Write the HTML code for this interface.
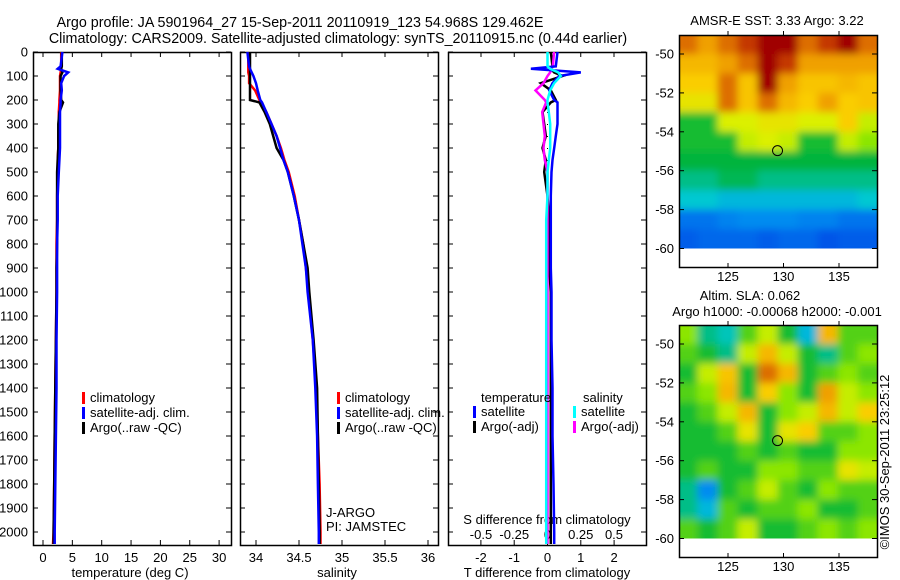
<!DOCTYPE html>
<html><head><meta charset="utf-8"><style>
body{margin:0;background:#fff;}
svg{display:block;font-family:"Liberation Sans",sans-serif;font-size:13px;}
</style></head><body>
<svg id="fig" width="900" height="580" viewBox="0 0 900 580" xmlns="http://www.w3.org/2000/svg">
<defs>
<filter id="smooth" x="0" y="0" width="1" height="1"><feGaussianBlur stdDeviation="4"/><feComponentTransfer><feFuncA type="table" tableValues="1 1"/></feComponentTransfer></filter>
<clipPath id="clip1"><rect x="679" y="35" width="199" height="213.5"/></clipPath>
<clipPath id="clip2"><rect x="679" y="325" width="199" height="213.5"/></clipPath>
</defs>
<text x="300" y="27" text-anchor="middle" style="font-size:14.3px">Argo profile: JA 5901964_27 15-Sep-2011 20110919_123 54.968S 129.462E</text>
<text x="338" y="43" text-anchor="middle" style="font-size:14.3px">Climatology: CARS2009. Satellite-adjusted climatology: synTS_20110915.nc (0.44d earlier)</text>
<g id="layer"></g>
</svg>
<script>
// ---- data ----
const depthTicks=[0,100,200,300,400,500,600,700,800,900,1000,1100,1200,1300,1400,1500,1600,1700,1800,1900,2000];
const tempTicks=[0,5,10,15,20,25,30];
const salTicks=[34,34.5,35,35.5,36];
const salTickLabels=["34","34.5","35","35.5","36"];
const tdiffTicks=[-2,-1,0,1,2];
const sdiffTicks=[-0.5,-0.25,0,0.25,0.5];
const sdiffTickLabels=["-0.5","-0.25","0","0.25","0.5"];
const lonTicks=[125,130,135];
const latTicks=[-50,-52,-54,-56,-58,-60];

const depths=[0,60,70,85,100,130,160,200,210,250,300,350,400,450,500,600,700,800,900,1000,1200,1400,1600,1800,2000,2050];
const tempClim=[3.1,3.1,3.1,3.0,2.9,2.9,2.9,2.8,2.8,2.7,2.7,2.6,2.6,2.5,2.5,2.4,2.4,2.3,2.3,2.3,2.2,2.1,2.0,1.9,1.8,1.7];
const tempSat=[3.3,3.0,2.5,4.3,3.6,3.1,3.2,3.0,3.0,2.9,2.9,2.9,2.9,2.8,2.7,2.5,2.5,2.4,2.4,2.4,2.3,2.3,2.2,2.1,2.0,2.0];
const tempArgo=[3.2,3.2,3.1,3.3,3.0,3.0,3.0,3.1,3.4,2.8,2.6,2.6,2.6,2.5,2.4,2.4,2.4,2.4,2.3,2.3,2.2,2.1,2.0,1.9,1.8,1.8];
const salClim=[33.91,33.91,33.91,33.91,33.92,33.92,33.99,34.04,34.06,34.12,34.18,34.24,34.29,34.33,34.38,34.45,34.5,34.55,34.58,34.61,34.66,34.7,34.72,34.74,34.75,34.75];
const salSat=[33.9,33.92,33.93,33.95,33.97,34.0,34.02,34.05,34.07,34.12,34.18,34.24,34.28,34.32,34.37,34.44,34.5,34.54,34.58,34.6,34.66,34.69,34.71,34.72,34.73,34.73];
const salArgo=[33.93,33.93,33.93,33.93,33.93,33.93,33.93,33.93,34.04,34.1,34.16,34.2,34.24,34.32,34.37,34.44,34.5,34.55,34.6,34.62,34.67,34.71,34.72,34.73,34.74,34.74];
const tdiffSat=[0.3,0.25,-0.5,1.0,0.35,0.15,0.05,0.2,0.3,0.3,0.3,0.25,0.2,0.15,0.12,0.1,0.1,0.1,0.1,0.12,0.12,0.15,0.15,0.18,0.2,0.2];
const tdiffArgo=[0.1,0.15,0.1,0.2,0.45,-0.2,0.1,0.25,0.1,-0.15,-0.1,-0.05,-0.15,-0.05,-0.1,0.0,0.05,0.05,0.05,0.1,0.1,0.1,0.1,0.1,0.1,0.1];
const sdiffSat=[0.0,0.0,0.02,0.08,0.1,0.05,0.02,0.0,0.0,0.01,0.02,0.02,0.02,0.01,0.0,0.0,-0.01,-0.01,-0.01,-0.01,-0.01,-0.01,-0.01,-0.01,-0.01,-0.01];
const sdiffArgo=[0.05,0.04,0.03,0.02,0.0,-0.03,-0.09,-0.02,-0.01,-0.04,-0.03,-0.02,-0.03,-0.02,0.0,0.0,0.0,0.0,0.0,0.0,0.0,0.0,0.0,0.0,0.0,0.0];

const sstGrid=[
[0.85,0.8,0.85,0.9,0.95,0.95,0.85,0.9,0.95,0.85],
[0.75,0.75,0.8,0.85,0.95,0.9,0.8,0.8,0.8,0.8],
[0.7,0.7,0.85,0.72,0.95,0.8,0.72,0.72,0.75,0.72],
[0.65,0.65,0.85,0.72,0.85,0.75,0.7,0.8,0.7,0.72],
[0.45,0.45,0.62,0.62,0.65,0.65,0.62,0.62,0.7,0.6],
[0.45,0.45,0.45,0.6,0.62,0.6,0.45,0.45,0.6,0.55],
[0.43,0.43,0.43,0.43,0.43,0.43,0.43,0.43,0.43,0.43],
[0.4,0.4,0.42,0.42,0.4,0.4,0.4,0.4,0.4,0.4],
[0.37,0.37,0.35,0.35,0.35,0.35,0.35,0.35,0.35,0.37],
[0.25,0.25,0.28,0.3,0.3,0.3,0.28,0.28,0.25,0.25],
[0.2,0.22,0.22,0.22,0.2,0.22,0.22,0.18,0.2,0.2]];
const slaGrid=[
[0.55,0.4,0.38,0.5,0.6,0.45,0.35,0.75,0.5,0.5],
[0.5,0.45,0.4,0.6,0.75,0.6,0.45,0.4,0.5,0.55],
[0.45,0.6,0.72,0.45,0.85,0.75,0.45,0.5,0.55,0.5],
[0.5,0.55,0.75,0.45,0.7,0.55,0.45,0.8,0.6,0.55],
[0.45,0.5,0.6,0.75,0.45,0.55,0.6,0.75,0.6,0.7],
[0.45,0.45,0.5,0.65,0.45,0.65,0.7,0.5,0.5,0.55],
[0.45,0.45,0.45,0.5,0.45,0.5,0.45,0.45,0.55,0.55],
[0.45,0.5,0.45,0.45,0.55,0.55,0.5,0.5,0.65,0.6],
[0.4,0.3,0.45,0.5,0.6,0.5,0.45,0.55,0.5,0.5],
[0.4,0.35,0.5,0.45,0.5,0.5,0.55,0.45,0.45,0.5],
[0.5,0.45,0.5,0.6,0.45,0.45,0.5,0.55,0.5,0.55]];
const argoLon=129.462, argoLat=-54.968;

// ---- helpers ----
const NS="http://www.w3.org/2000/svg";
const L=document.getElementById('layer');
function mk(tag,attrs,txt,parent){const e=document.createElementNS(NS,tag);for(const k in attrs)e.setAttribute(k,attrs[k]);if(txt!==undefined&&txt!==null)e.textContent=txt;(parent||L).appendChild(e);return e;}
const TOP=52,BOT=545;
const yD=d=>TOP+d*0.24;
const xT=v=>43+v*5.87;
const xS=v=>256+(v-34)*86;
const xTd=v=>547.5+v*33.3;
const xSd=v=>547.5+v*133;

function box(x0,x1,y0,y1,name){const r=mk('rect',{x:x0+0.5,y:y0+0.5,width:x1-x0,height:y1-y0,fill:'none',stroke:'#000','stroke-width':1.5});

}
function line(x1,y1,x2,y2,c,w){mk('line',{x1,y1,x2,y2,stroke:c||'#000','stroke-width':w||1});}
function txt(x,y,s,anchor,name){const t=mk('text',{x,y,'text-anchor':anchor||'start'},s);

return t;}
function profile(xs,vals,fx,color,name){const p=mk('polyline',{points:vals.map((v,i)=>fx(v).toFixed(1)+','+yD(xs[i]).toFixed(1)).join(' '),fill:'none',stroke:color,'stroke-width':2.5,'stroke-linejoin':'miter'});

}
function depthTicksOn(x0,x1,labels){depthTicks.forEach(d=>{const y=yD(d);line(x0,y,x0+5,y);line(x1-5,y,x1,y);if(labels)txt(28,y+4.5,String(d),'end','depth-tick-label');});}
function legend(x,y,items){items.forEach((it,i)=>{const r=mk('rect',{x:x,y:y+i*15-10,width:3,height:12,fill:it[0]});


txt(x+8,y+i*15,it[1],'start','legend-entry');});}

// ---- panel 1 temperature ----
box(33,231,TOP,BOT,'temperature-axes');
depthTicksOn(33,231,true);
tempTicks.forEach((v,i)=>{const x=xT(v);line(x,BOT-5,x,BOT);line(x,TOP,x,TOP+5);txt(x,562,String(v),'middle','temperature-tick-label');});
txt(130,577,'temperature (deg C)','middle','x-axis-title-temperature');
profile(depths,tempClim,xT,'#f00','temp-climatology-line');
profile(depths,tempArgo,xT,'#000','temp-argo-line');
profile(depths,tempSat,xT,'#00f','temp-satellite-line');
legend(82,402,[['#f00','climatology'],['#00f','satellite-adj. clim.'],['#000','Argo(..raw -QC)']]);

// ---- panel 2 salinity ----
box(240,438,TOP,BOT,'salinity-axes');
depthTicksOn(240,438,false);
salTicks.forEach((v,i)=>{const x=xS(v);line(x,BOT-5,x,BOT);line(x,TOP,x,TOP+5);txt(x,562,salTickLabels[i],'middle','salinity-tick-label');});
txt(337,577,'salinity','middle','x-axis-title-salinity');
profile(depths,salClim,xS,'#f00','sal-climatology-line');
profile(depths,salArgo,xS,'#000','sal-argo-line');
profile(depths,salSat,xS,'#00f','sal-satellite-line');
legend(337,402,[['#f00','climatology'],['#00f','satellite-adj. clim.'],['#000','Argo(..raw -QC)']]);
txt(326,517,'J-ARGO','start','float-program-label');
txt(326,531,'PI: JAMSTEC','start','pi-label');

// ---- panel 3 differences ----
box(448,646,TOP,BOT,'difference-axes');
depthTicksOn(448,646,false);
for(let d=0;d<=2000;d+=50){mk('rect',{x:547,y:yD(d),width:1,height:1,fill:'#000'});}
tdiffTicks.forEach(v=>{const x=xTd(v);line(x,BOT-5,x,BOT);txt(x,562,String(v),'middle','tdiff-tick-label');});
sdiffTicks.forEach((v,i)=>{const x=xSd(v);line(x,TOP,x,TOP+5);txt(x,539,sdiffTickLabels[i],'middle','sdiff-tick-label');});
txt(547,524,'S difference from climatology','middle','s-difference-axis-title');
txt(547,577,'T difference from climatology','middle','t-difference-axis-title');
profile(depths,tdiffArgo,xTd,'#000','tdiff-argo-line');
profile(depths,sdiffArgo,xSd,'#f0f','sdiff-argo-line');
profile(depths,tdiffSat,xTd,'#00f','tdiff-satellite-line');
profile(depths,sdiffSat,xSd,'#0ff','sdiff-satellite-line');
txt(481,402,'temperature','start','legend-temperature-header');
txt(583,402,'salinity','start','legend-salinity-header');
legend(473,416,[['#00f','satellite'],['#000','Argo(-adj)']]);
legend(573,416,[['#0ff','satellite'],['#f0f','Argo(-adj)']]);

// ---- maps ----
const stops=[[0.15,[0,70,230]],[0.3,[0,140,240]],[0.37,[0,200,210]],[0.43,[0,180,60]],[0.55,[140,230,0]],[0.62,[220,240,0]],[0.7,[250,205,0]],[0.8,[240,160,0]],[0.88,[210,80,0]],[0.95,[160,0,0]]];
function cmap(v){if(v<=stops[0][0])return 'rgb('+stops[0][1]+')';for(let i=1;i<stops.length;i++){if(v<=stops[i][0]){const a=stops[i-1],b=stops[i],t=(v-a[0])/(b[0]-a[0]);return 'rgb('+a[1].map((c,k)=>Math.round(c+(b[1][k]-c)*t)).join(',')+')';}}return 'rgb('+stops[stops.length-1][1]+')';}
const xLon=lon=>728+(lon-125)*11.1;
function drawMap(grid,top,lat50,name,clip){
 const yLat=lat=>lat50+(-50-lat)*19.45;
 const lon0=120.45,lon1=138.5,nC=grid[0].length,nR=grid.length;
 const dl=(lon1-lon0)/nC, dlat=11/nR;
 const outer=mk('g',{'clip-path':'url(#'+clip+')'});
 
 
 const g=mk('g',{filter:'url(#smooth)'},null,outer);
 grid.forEach((row,r)=>row.forEach((v,c)=>{const x0=xLon(lon0+c*dl),x1=xLon(lon0+(c+1)*dl),y0=yLat(-49-r*dlat),y1=yLat(-49-(r+1)*dlat);
  const cell=mk('rect',{x:x0.toFixed(1),y:y0.toFixed(1),width:(x1-x0+0.6).toFixed(1),height:(y1-y0+0.6).toFixed(1),fill:cmap(v)},null,g);
  
  }));
 const bottom=top+232;
 box(679,877,top,bottom,name+'-frame');
 latTicks.forEach(l=>{const y=yLat(l);line(679,y,684,y);line(872,y,877,y);txt(674,y+4.5,String(l),'end','latitude-tick-label');});
 lonTicks.forEach(l=>{const x=xLon(l);line(x,top,x,top-4);line(x,bottom,x,bottom-4);txt(x,bottom+14,String(l),'middle','longitude-tick-label');});
 const m=mk('circle',{cx:xLon(argoLon),cy:yLat(argoLat),r:5,fill:'none',stroke:'#000','stroke-width':1});
 
 
}
drawMap(sstGrid,35,54,'sst-map','clip1');
txt(777,25,'AMSR-E SST: 3.33 Argo: 3.22','middle','sst-map-title');
drawMap(slaGrid,325,344,'sla-map','clip2');
txt(750,300,'Altim. SLA: 0.062','middle','sla-map-title');
txt(777,316,'Argo h1000: -0.00068 h2000: -0.001','middle','sla-map-subtitle');
const cr=txt(0,0,'©IMOS 30-Sep-2011 23:25:12','middle','credit-label');
cr.setAttribute('transform','translate(889,462) rotate(-90)');
</script>
</body></html>
